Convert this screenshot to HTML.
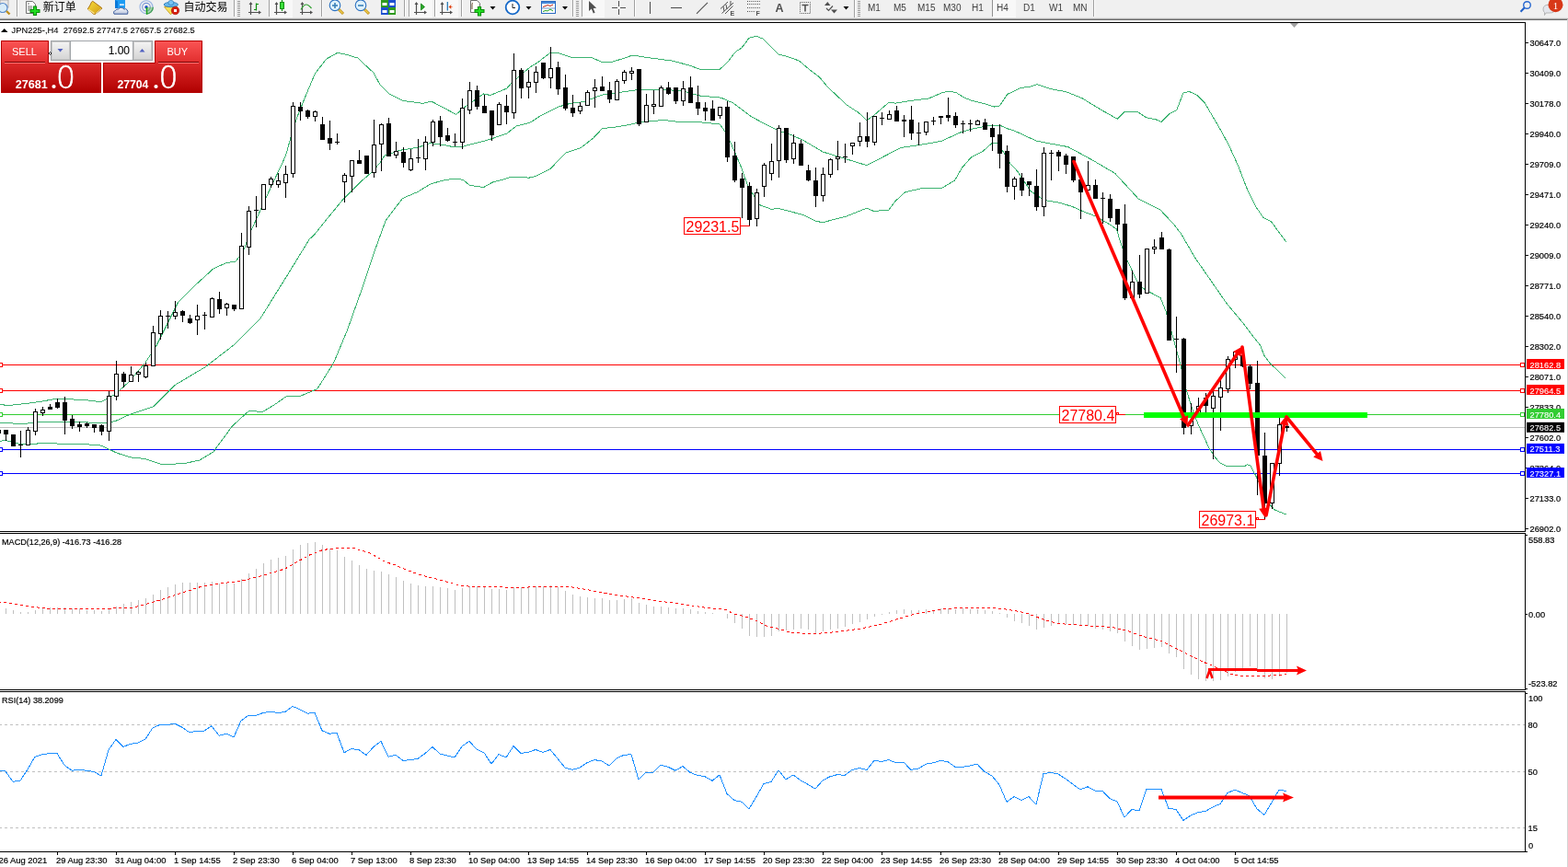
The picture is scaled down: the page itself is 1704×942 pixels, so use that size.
<!DOCTYPE html>
<html><head><meta charset="utf-8"><title>JPN225 H4</title>
<style>
html,body{margin:0;padding:0;background:#fff;width:1704px;height:942px;overflow:hidden}
svg{display:block;position:absolute;left:0;top:0}
.t{font-family:"Liberation Sans",sans-serif;font-size:9.8px;fill:#000;stroke:#000;stroke-width:0.2px}
.lb{font-family:"Liberation Sans",sans-serif;font-size:16px;fill:#ff0000}
.w{font-family:"Liberation Sans",sans-serif;fill:#fff}
.big{font-family:"DejaVu Sans",sans-serif;font-weight:200;font-size:33px;fill:#fff;stroke:#fff;stroke-width:0.6px}
.cjk{font-family:"Liberation Sans","Noto Sans CJK SC","WenQuanYi Zen Hei",sans-serif;font-size:12px;font-weight:400;fill:#000}
.tf{font-family:"Liberation Sans",sans-serif;font-size:10px;fill:#404040}
.ic{font-family:"Liberation Sans",sans-serif;font-size:7px;font-weight:bold;fill:#505050}
.badge{font-family:"Liberation Serif",serif;font-size:11px;fill:#fff}
</style></head>
<body>
<svg width="1704" height="942" viewBox="0 0 1704 942">
<defs>
<clipPath id="cm"><rect x="0" y="25" width="1657" height="552"/></clipPath>
<clipPath id="cmacd"><rect x="0" y="580" width="1657" height="169"/></clipPath>
<clipPath id="crsi"><rect x="0" y="752" width="1657" height="173"/></clipPath>
<linearGradient id="gsellt" x1="0" y1="0" x2="0" y2="1"><stop offset="0" stop-color="#fb5555"/><stop offset="1" stop-color="#e02c2c"/></linearGradient>
<linearGradient id="gsellb" x1="0" y1="0" x2="0" y2="1"><stop offset="0" stop-color="#dc2a2a"/><stop offset="1" stop-color="#b00000"/></linearGradient>
<linearGradient id="gbook" x1="0" y1="0" x2="1" y2="1"><stop offset="0" stop-color="#f8dc3c"/><stop offset="1" stop-color="#d09a14"/></linearGradient>
<linearGradient id="gcloud" x1="0" y1="0" x2="0" y2="1"><stop offset="0" stop-color="#ffffff"/><stop offset="1" stop-color="#b8c4dc"/></linearGradient>
<linearGradient id="gbtn" x1="0" y1="0" x2="0" y2="1"><stop offset="0" stop-color="#f4f4f4"/><stop offset="1" stop-color="#d4d4d4"/></linearGradient>
</defs>
<g>
<rect x="0" y="0" width="1704" height="19" fill="#f0f0f0"/>
<rect x="0" y="19" width="1704" height="1" fill="#e2e2e2"/>
<rect x="0" y="20" width="1704" height="1" fill="#a8a8a8"/>
<rect x="0" y="21" width="1704" height="1" fill="#6a6a6a"/>
<rect x="0" y="0" width="9" height="8" fill="#e8e8e8" stroke="#a0a0a0" stroke-width="0.8"/>
<circle cx="3" cy="8.5" r="5" fill="#d8ecf8" stroke="#5a8ccc" stroke-width="1.2"/>
<path d="M7 12 L10.5 15.5" stroke="#c09020" stroke-width="2.4"/>
<rect x="18" y="0" width="1" height="18" fill="#a0a0a0"/><rect x="19" y="0" width="1" height="18" fill="#ffffff"/>
<path d="M28.5 1.5 H35.5 L38.5 4.5 V14.5 H28.5 Z" fill="#fff" stroke="#707070" stroke-width="1"/>
<path d="M30 4 H32 M30 7 H35 M30 9 H35 M30 11 H33" stroke="#606060" stroke-width="0.9"/>
<path d="M38 6.5 V17 M32.5 12 H43.5" stroke="#0a8a0a" stroke-width="4.2"/>
<path d="M38 7.5 V16 M33.5 12 H42.5" stroke="#22dd22" stroke-width="2.2"/>
<text x="46.8" y="11.6" class="cjk">新订单</text>
<path d="M95.3 9.8 Q98 6 99.5 2.2 Q100.2 1 101.2 1.6 L110.4 8.4 Q111 9.2 110.2 10 L103.6 15.2 Q102.6 15.8 101.6 15.2 Z" fill="url(#gbook)" stroke="#a66a0a" stroke-width="0.9"/>
<path d="M96.2 10.2 L102.6 14.6" stroke="#f8e08a" stroke-width="1.3"/>
<path d="M104 14.6 L110 9.6" stroke="#e8d8a0" stroke-width="1"/>
<rect x="125" y="0" width="11" height="9" fill="#1e9cf4"/>
<path d="M125 0 V9 H128 V1.5 Z" fill="#0a78d8"/>
<rect x="130" y="4.3" width="4.8" height="1.6" fill="#e8f4ff"/>
<path d="M124 15.2 Q122.6 12.2 125.6 11.4 Q126.4 9.6 128.6 10 Q130 7.6 132.6 8.4 Q134.4 8.8 134.8 10.2 Q136.6 8.8 138 10.6 Q139.6 12 138.6 15.2 Z" fill="url(#gcloud)" stroke="#3c5c9c" stroke-width="1"/>
<path d="M159 7.7 V15.5 A7.6 7.6 0 0 0 166.6 7.7 Z" fill="#a8dca0"/>
<circle cx="159" cy="7.7" r="7" fill="none" stroke="#9ab4e4" stroke-width="1.1"/>
<circle cx="159" cy="7.7" r="4.3" fill="none" stroke="#7896d8" stroke-width="1.1"/>
<path d="M166.3 7.7 A7.3 7.3 0 0 1 159 15" stroke="#40a050" stroke-width="1.3" fill="none"/>
<path d="M163.3 7.7 A4.3 4.3 0 0 1 159 12" stroke="#70b878" stroke-width="1" fill="none"/>
<circle cx="159" cy="7.7" r="1.7" fill="#2050c8"/>
<path d="M159.5 8 V15.6" stroke="#18a018" stroke-width="1.5"/>
<path d="M178.5 7.5 L192.5 7.5 L185.5 15.8 Z" fill="#f6e058" stroke="#c8a020" stroke-width="0.9" stroke-linejoin="round"/>
<ellipse cx="185.8" cy="5" rx="7.6" ry="2.6" fill="#68b8ec" stroke="#2a7ab8" stroke-width="0.9"/>
<ellipse cx="185.8" cy="3" rx="3" ry="2.6" fill="#78c4f4" stroke="#2a7ab8" stroke-width="0.7"/>
<circle cx="190.5" cy="11.5" r="4.2" fill="#d42010" stroke="#b01000" stroke-width="0.6"/>
<rect x="189" y="10" width="3" height="3" fill="#fff"/>
<text x="199.5" y="11.6" class="cjk">自动交易</text>
<rect x="254" y="0" width="1" height="18" fill="#a0a0a0"/><rect x="255" y="0" width="1" height="18" fill="#ffffff"/>
<rect x="258" y="1" width="3" height="1" fill="#9a9a9a"/><rect x="258" y="3" width="3" height="1" fill="#9a9a9a"/><rect x="258" y="5" width="3" height="1" fill="#9a9a9a"/><rect x="258" y="7" width="3" height="1" fill="#9a9a9a"/><rect x="258" y="9" width="3" height="1" fill="#9a9a9a"/><rect x="258" y="11" width="3" height="1" fill="#9a9a9a"/><rect x="258" y="13" width="3" height="1" fill="#9a9a9a"/><rect x="258" y="15" width="3" height="1" fill="#9a9a9a"/><rect x="258" y="17" width="3" height="1" fill="#9a9a9a"/>
<path d="M272.5 3 V16 M270 13.5 H283" stroke="#505050" stroke-width="1.2" fill="none"/><path d="M270.5 5 L272.5 2 L274.5 5 Z M281 11.5 L284 13.5 L281 15.5Z" fill="#505050"/>
<path d="M278.5 3.5 V11.5 M278.5 4.5 H281 M276 10.5 H278.5" stroke="#109010" stroke-width="1.2" fill="none"/>
<rect x="292" y="0" width="1" height="18" fill="#a0a0a0"/><rect x="293" y="0" width="1" height="18" fill="#ffffff"/>
<rect x="294" y="0" width="24" height="19" fill="#f8f8f8"/><rect x="294" y="18" width="24" height="1" fill="#fdfdfd"/>
<path d="M300.5 3 V16 M298 13.5 H311" stroke="#505050" stroke-width="1.2" fill="none"/><path d="M298.5 5 L300.5 2 L302.5 5 Z M309 11.5 L312 13.5 L309 15.5Z" fill="#505050"/>
<path d="M306.5 0 V12" stroke="#109010" stroke-width="1.2"/><rect x="304.5" y="2.5" width="4" height="7" fill="#3be03b" stroke="#109010" stroke-width="1"/>
<path d="M328.5 3 V16 M326 13.5 H339" stroke="#505050" stroke-width="1.2" fill="none"/><path d="M326.5 5 L328.5 2 L330.5 5 Z M337 11.5 L340 13.5 L337 15.5Z" fill="#505050"/>
<path d="M327 10.5 Q330 5 333 5 Q335 5 338.5 9" stroke="#30a030" stroke-width="1.2" fill="none"/>
<rect x="349" y="0" width="1" height="18" fill="#a0a0a0"/><rect x="350" y="0" width="1" height="18" fill="#ffffff"/>
<path d="M368 10 L373 15" stroke="#c0901a" stroke-width="3"/>
<path d="M368.5 10.5 L372.5 14.5" stroke="#f0d050" stroke-width="1.2"/>
<circle cx="364" cy="5.8" r="5.8" fill="#dff2fc" stroke="#2a70c0" stroke-width="1.1"/>
<path d="M361 6 H367" stroke="#3a80b8" stroke-width="1.6"/>
<path d="M364 3 V9" stroke="#3a80b8" stroke-width="1.6"/>
<path d="M396 10 L401 15" stroke="#c0901a" stroke-width="3"/>
<path d="M396.5 10.5 L400.5 14.5" stroke="#f0d050" stroke-width="1.2"/>
<circle cx="392" cy="5.8" r="5.8" fill="#dff2fc" stroke="#2a70c0" stroke-width="1.1"/>
<path d="M389 6 H395" stroke="#3a80b8" stroke-width="1.6"/>
<rect x="414" y="0" width="8" height="8" fill="#2e9a1e"/><rect x="415.5" y="3" width="5" height="3" fill="#fff"/>
<rect x="422" y="0" width="8" height="8" fill="#1e50d0"/><rect x="423.5" y="3" width="5" height="3" fill="#fff"/>
<rect x="414" y="8" width="8" height="8" fill="#1e50d0"/><rect x="415.5" y="11" width="5" height="3" fill="#fff"/>
<rect x="422" y="8" width="8" height="8" fill="#2e9a1e"/><rect x="423.5" y="11" width="5" height="3" fill="#fff"/>
<rect x="439" y="0" width="1" height="18" fill="#a0a0a0"/><rect x="440" y="0" width="1" height="18" fill="#ffffff"/>
<rect x="444" y="0" width="1" height="18" fill="#a0a0a0"/><rect x="445" y="0" width="1" height="18" fill="#ffffff"/>
<rect x="446" y="0" width="24" height="19" fill="#f8f8f8"/><rect x="446" y="18" width="24" height="1" fill="#fdfdfd"/>
<path d="M452.5 3 V16 M450 13.5 H463" stroke="#505050" stroke-width="1.2" fill="none"/><path d="M450.5 5 L452.5 2 L454.5 5 Z M461 11.5 L464 13.5 L461 15.5Z" fill="#505050"/>
<polygon points="457.5,4 457.5,11 461.5,7.5" fill="#2aa82a" stroke="#108010" stroke-width="0.8"/>
<rect x="472" y="0" width="1" height="18" fill="#a0a0a0"/><rect x="473" y="0" width="1" height="18" fill="#ffffff"/>
<rect x="474" y="0" width="24" height="19" fill="#f8f8f8"/><rect x="474" y="18" width="24" height="1" fill="#fdfdfd"/>
<path d="M480.5 3 V16 M478 13.5 H491" stroke="#505050" stroke-width="1.2" fill="none"/><path d="M478.5 5 L480.5 2 L482.5 5 Z M489 11.5 L492 13.5 L489 15.5Z" fill="#505050"/>
<path d="M486.3 2 V11.5" stroke="#1870b0" stroke-width="1.2"/><path d="M487.5 7.5 L490.5 5 L490 7 L492.5 7.5 L490 8 L490.5 10 Z" fill="#e04010"/>
<rect x="501" y="0" width="1" height="18" fill="#a0a0a0"/><rect x="502" y="0" width="1" height="18" fill="#ffffff"/>
<path d="M511.5 0.5 H518.5 L521.5 3.5 V13.5 H511.5 Z" fill="#fff" stroke="#707070" stroke-width="1"/>
<path d="M514 3 Q513 3 513 5 V10" stroke="#604020" stroke-width="0.9" fill="none"/>
<path d="M521 7 V17.5 M515.5 12 H526.5" stroke="#0a8a0a" stroke-width="4.2"/>
<path d="M521 8 V16.5 M516.5 12 H525.5" stroke="#22dd22" stroke-width="2.2"/>
<polygon points="532.5,7 538.5,7 535.5,10.5" fill="#000"/>
<circle cx="557" cy="8" r="7.3" fill="#fff" stroke="#1468c8" stroke-width="1.8"/>
<path d="M557 4 V8.5 H560" stroke="#202020" stroke-width="1" fill="none"/>
<polygon points="571.5,7 577.5,7 574.5,10.5" fill="#000"/>
<rect x="588.5" y="1.5" width="15" height="13" fill="#fff" stroke="#2868c0" stroke-width="1"/>
<rect x="589" y="2" width="14" height="2" fill="#4888d8"/>
<path d="M589 9 H603" stroke="#5080c0" stroke-width="0.8"/>
<path d="M590 7.5 L593 6.5 L595 5.5 L598 6.5 L601 5" stroke="#c02010" stroke-width="1" fill="none"/>
<path d="M590 12.5 L593 11.5 L595 12 L598 10 L601 12" stroke="#20a020" stroke-width="1" fill="none"/>
<polygon points="611,7 617,7 614,10.5" fill="#000"/>
<rect x="622" y="0" width="1" height="18" fill="#a0a0a0"/><rect x="623" y="0" width="1" height="18" fill="#ffffff"/>
<rect x="626" y="1" width="3" height="1" fill="#9a9a9a"/><rect x="626" y="3" width="3" height="1" fill="#9a9a9a"/><rect x="626" y="5" width="3" height="1" fill="#9a9a9a"/><rect x="626" y="7" width="3" height="1" fill="#9a9a9a"/><rect x="626" y="9" width="3" height="1" fill="#9a9a9a"/><rect x="626" y="11" width="3" height="1" fill="#9a9a9a"/><rect x="626" y="13" width="3" height="1" fill="#9a9a9a"/><rect x="626" y="15" width="3" height="1" fill="#9a9a9a"/><rect x="626" y="17" width="3" height="1" fill="#9a9a9a"/>
<rect x="632" y="0" width="1" height="18" fill="#a0a0a0"/><rect x="633" y="0" width="1" height="18" fill="#ffffff"/>
<rect x="633" y="0" width="24" height="19" fill="#f8f8f8"/><rect x="633" y="18" width="24" height="1" fill="#fdfdfd"/>
<path d="M640 1 V12 L642.8 9.5 L644.8 14.5 L646.6 13.8 L644.7 9 L648.2 8.7 Z" fill="#505050"/>
<path d="M672.5 1 V7 M672.5 10 V16 M665 8.5 H671 M674 8.5 H680" stroke="#505050" stroke-width="1.1"/>
<rect x="689" y="0" width="1" height="18" fill="#a0a0a0"/><rect x="690" y="0" width="1" height="18" fill="#ffffff"/>
<path d="M706.5 2 V15" stroke="#505050" stroke-width="1.1"/>
<path d="M729 8.5 H741" stroke="#505050" stroke-width="1.1"/>
<path d="M757 14.8 L769 2.8" stroke="#505050" stroke-width="1.1"/>
<path d="M783 9.5 L791 2 M784.5 14.5 L797 3 M788 15 L796.5 6.5 M786 7 L787 12 M789 5 L790 10 M794 1 V6" stroke="#505050" stroke-width="1" fill="none"/>
<text x="793.5" y="17.2" class="ic">E</text>
<path d="M812 1.5 H826" stroke="#505050" stroke-width="1" stroke-dasharray="1,1.2"/>
<path d="M812 4.5 H826" stroke="#505050" stroke-width="1" stroke-dasharray="1,1.2"/>
<path d="M812 8.5 H826" stroke="#505050" stroke-width="1" stroke-dasharray="1,1.2"/>
<path d="M812 12.5 H821" stroke="#505050" stroke-width="1" stroke-dasharray="1,1.2"/>
<text x="821.5" y="17.2" class="ic">F</text>
<text x="842.5" y="13.2" class="ic" style="font-size:12.5px">A</text>
<rect x="869.5" y="2.5" width="11" height="12" fill="none" stroke="#505050" stroke-width="1" stroke-dasharray="1,1.1"/>
<path d="M871.5 5.5 H878.5 M875 5.5 V12.5" stroke="#505050" stroke-width="1.6"/>
<polygon points="896,6 902.5,6 899.3,2" fill="#505050"/><polygon points="903,10.5 910,10.5 906.5,14.5" fill="#505050"/>
<path d="M898 9 L900.5 11.5 L905 6.5" stroke="#505050" stroke-width="1.2" fill="none"/>
<polygon points="916.5,7 922.5,7 919.5,10.5" fill="#000"/>
<rect x="928" y="0" width="1" height="19" fill="#a0a0a0"/><rect x="929" y="0" width="1" height="19" fill="#ffffff"/>
<rect x="932" y="1" width="3" height="1" fill="#9a9a9a"/><rect x="932" y="3" width="3" height="1" fill="#9a9a9a"/><rect x="932" y="5" width="3" height="1" fill="#9a9a9a"/><rect x="932" y="7" width="3" height="1" fill="#9a9a9a"/><rect x="932" y="9" width="3" height="1" fill="#9a9a9a"/><rect x="932" y="11" width="3" height="1" fill="#9a9a9a"/><rect x="932" y="13" width="3" height="1" fill="#9a9a9a"/><rect x="932" y="15" width="3" height="1" fill="#9a9a9a"/><rect x="932" y="17" width="3" height="1" fill="#9a9a9a"/>
<text x="943" y="12" class="tf">M1</text>
<text x="971" y="12" class="tf">M5</text>
<text x="997" y="12" class="tf">M15</text>
<text x="1025" y="12" class="tf">M30</text>
<text x="1056" y="12" class="tf">H1</text>
<rect x="1079" y="0" width="25" height="19" fill="#f8f8f8"/><rect x="1079" y="18" width="25" height="1" fill="#fdfdfd"/>
<rect x="1078" y="0" width="1" height="18" fill="#909090"/>
<text x="1083" y="12" class="tf">H4</text>
<text x="1112" y="12" class="tf">D1</text>
<text x="1140" y="12" class="tf">W1</text>
<text x="1166" y="12" class="tf">MN</text>
<rect x="1188" y="0" width="1" height="18" fill="#a0a0a0"/><rect x="1189" y="0" width="1" height="18" fill="#ffffff"/>
<circle cx="1659.5" cy="5.5" r="3.8" fill="none" stroke="#2868d0" stroke-width="1.4"/>
<path d="M1656.8 8.3 L1652.5 12.8" stroke="#2060c8" stroke-width="2"/>
<path d="M1677 10 Q1677 5 1684 5 Q1690 5 1690 10 Q1690 14 1684 14 L1680 14 L1678.5 16.5 L1678.5 13.5 Q1677 12.5 1677 10Z" fill="#e4e6ec" stroke="#a8a8a8" stroke-width="0.8"/>
<circle cx="1690.5" cy="5.2" r="8" fill="#d83818"/>
<text x="1690.5" y="10" class="badge" text-anchor="middle">1</text>
</g>
<g>
<rect x="0" y="24" width="1657" height="1" fill="#000"/>
<rect x="0" y="577" width="1658" height="1" fill="#000"/>
<rect x="0" y="579" width="1658" height="1" fill="#000"/>
<rect x="0" y="749" width="1658" height="1" fill="#000"/>
<rect x="0" y="751" width="1658" height="1" fill="#000"/>
<rect x="0" y="925" width="1658" height="1" fill="#000"/>
<rect x="1657" y="24" width="1" height="554" fill="#000"/>
<rect x="1657" y="579" width="1" height="171" fill="#000"/>
<rect x="1657" y="751" width="1" height="175" fill="#000"/>
<rect x="1703" y="21" width="1" height="921" fill="#d4d4d4"/>
<polygon points="1402,25 1411,25 1406.5,30" fill="#a0a0a0"/>
<g clip-path="url(#cm)">
<rect x="0" y="464" width="1657" height="1" fill="#c0c0c0"/>
<rect x="0" y="396" width="1657" height="1" fill="#ff0000"/>
<rect x="-1.5" y="394.5" width="4" height="4" fill="#fff" stroke="#ff0000" stroke-width="1"/>
<rect x="1652.5" y="394.5" width="4" height="4" fill="#fff" stroke="#ff0000" stroke-width="1"/>
<rect x="0" y="424" width="1657" height="1" fill="#ff0000"/>
<rect x="-1.5" y="422.5" width="4" height="4" fill="#fff" stroke="#ff0000" stroke-width="1"/>
<rect x="1652.5" y="422.5" width="4" height="4" fill="#fff" stroke="#ff0000" stroke-width="1"/>
<rect x="0" y="450" width="1657" height="1" fill="#32cd32"/>
<rect x="-1.5" y="448.5" width="4" height="4" fill="#fff" stroke="#32cd32" stroke-width="1"/>
<rect x="1652.5" y="448.5" width="4" height="4" fill="#fff" stroke="#32cd32" stroke-width="1"/>
<rect x="0" y="488" width="1657" height="1" fill="#0000ff"/>
<rect x="-1.5" y="486.5" width="4" height="4" fill="#fff" stroke="#0000ff" stroke-width="1"/>
<rect x="1652.5" y="486.5" width="4" height="4" fill="#fff" stroke="#0000ff" stroke-width="1"/>
<rect x="0" y="514" width="1657" height="1" fill="#0000ff"/>
<rect x="-1.5" y="512.5" width="4" height="4" fill="#fff" stroke="#0000ff" stroke-width="1"/>
<rect x="1652.5" y="512.5" width="4" height="4" fill="#fff" stroke="#0000ff" stroke-width="1"/>
<polyline points="0.0,439.6 10.0,440.5 35.0,437.7 50.0,435.3 60.0,433.4 90.0,434.3 110.0,436.7 124.9,428.6 139.7,415.3 157.5,394.5 169.4,376.7 193.2,329.1 214.0,308.3 231.8,292.0 246.7,285.2 255.6,284.6 264.5,272.7 272.7,251.0 291.0,210.8 310.5,169.2 316.6,147.2 322.7,127.7 332.5,103.3 342.3,80.1 354.5,64.2 366.7,57.4 376.5,59.3 388.7,63.0 405.8,78.9 413.1,92.3 422.9,102.1 437.5,109.4 459.5,112.3 469.0,110.2 495.7,124.3 506.1,115.4 525.5,102.0 532.9,103.5 550.7,96.1 556.7,89.4 576.0,73.0 583.9,68.2 597.3,57.8 606.9,57.5 621.0,62.3 641.9,62.3 654.5,67.5 665.7,67.2 682.0,62.0 686.9,60.0 704.8,62.7 730.0,66.0 749.4,71.1 762.7,76.0 770.0,75.4 782.3,75.4 791.9,66.0 796.9,59.2 800.6,55.5 805.6,52.3 808.4,49.1 813.8,41.4 817.0,40.4 822.1,39.3 829.4,42.3 846.3,59.4 852.2,60.3 861.3,63.3 868.6,66.2 879.6,75.6 890.5,83.8 899.7,94.8 910.0,104.4 919.7,113.6 933.1,122.5 942.0,130.7 949.5,125.5 965.8,111.4 973.2,112.1 986.6,109.9 1000.0,108.1 1007.9,107.6 1024.2,100.6 1031.7,99.2 1039.1,100.6 1048.0,106.1 1055.5,109.1 1070.3,112.8 1080.0,116.1 1086.4,115.0 1094.9,102.3 1109.7,95.3 1119.3,94.4 1126.7,91.7 1141.6,96.6 1158.6,99.7 1175.6,106.5 1194.7,118.2 1214.2,129.3 1222.3,121.4 1237.1,122.0 1245.6,127.8 1256.3,129.9 1262.2,132.5 1271.1,123.5 1278.6,119.9 1286.0,100.8 1292.4,99.5 1300.9,103.4 1309.3,111.9 1324.2,137.3 1334.8,156.4 1345.4,179.8 1356.1,207.4 1364.6,224.4 1373.1,236.7 1381.6,241.0 1397.5,262.6" fill="none" stroke="#3cb371" stroke-width="1" shape-rendering="crispEdges"/>
<polyline points="0.0,459.2 25.0,460.6 45.0,458.2 75.0,458.2 90.0,458.7 110.0,459.8 125.0,457.7 139.7,450.9 166.4,442.0 190.2,418.3 222.9,398.9 255.6,373.7 282.3,347.0 312.0,299.4 336.2,260.0 341.7,254.9 353.6,240.0 371.6,218.1 387.6,202.1 393.6,196.1 404.2,187.0 413.1,176.6 418.0,169.0 425.3,166.8 433.2,163.5 440.0,162.5 454.8,160.0 466.4,155.8 474.9,156.3 484.4,157.9 491.8,159.5 502.3,159.5 508.7,157.6 526.6,153.2 535.1,150.5 550.7,145.1 561.1,137.0 576.0,133.2 586.9,126.2 607.7,115.8 619.6,112.4 634.4,110.6 653.8,103.2 682.0,99.2 692.9,97.5 722.6,97.2 743.4,99.4 761.2,104.2 780.6,105.8 784.0,106.4 796.7,111.9 815.8,126.3 831.8,135.0 847.7,142.7 858.8,146.2 873.1,152.5 894.0,164.9 942.0,179.7 979.0,160.4 1000.0,157.4 1022.8,153.4 1045.1,143.3 1058.4,139.6 1077.8,136.2 1086.7,136.2 1094.1,139.6 1101.2,141.6 1126.7,153.3 1160.7,159.6 1186.2,173.4 1211.7,188.3 1237.1,215.9 1260.5,227.6 1275.4,243.5 1283.2,253.5 1298.7,280.0 1333.3,330.0 1350.0,349.9 1361.4,365.0 1369.7,375.3 1373.8,386.4 1381.7,396.5 1387.0,400.8 1397.6,411.4" fill="none" stroke="#3cb371" stroke-width="1" shape-rendering="crispEdges"/>
<polyline points="0.0,479.7 5.0,478.1 20.0,482.1 30.0,483.0 50.0,481.1 75.0,483.0 90.0,482.6 105.0,483.5 110.0,484.2 127.8,492.5 142.7,497.0 157.5,498.5 175.4,504.4 199.1,503.8 217.0,500.0 231.8,491.0 252.6,462.8 270.4,446.5 285.3,447.4 297.2,440.5 312.0,430.1 326.9,430.1 344.7,422.7 362.5,394.5 377.4,358.8 392.2,317.2 407.1,272.7 419.0,240.0 426.3,230.0 437.5,215.6 440.0,214.4 453.7,208.6 468.5,199.6 484.4,195.4 492.8,194.4 498.1,194.4 503.4,195.6 510.8,201.5 517.1,202.3 525.6,203.6 535.1,198.1 545.6,195.4 554.1,192.8 569.9,192.5 574.2,193.3 582.6,191.4 597.4,184.0 609.0,172.2 615.3,165.8 631.5,160.4 644.8,150.0 654.5,139.6 668.6,138.1 682.0,135.9 689.9,134.0 707.7,131.4 722.6,130.6 737.5,132.5 761.2,132.8 782.0,135.0 784.0,137.4 788.0,143.2 793.6,154.1 804.7,179.6 812.7,201.9 825.4,222.6 838.1,227.3 846.1,226.6 858.8,229.7 873.1,233.7 885.9,240.1 894.0,241.7 919.7,235.0 942.0,226.1 949.5,229.5 965.8,228.0 973.2,218.4 983.7,208.7 1000.0,205.0 1022.8,204.7 1037.6,196.1 1045.1,182.7 1055.5,170.8 1067.4,164.9 1078.5,155.2 1085.2,155.9 1091.1,166.4 1098.0,178.2 1105.4,185.7 1120.3,208.0 1135.2,217.6 1150.0,219.9 1164.9,224.3 1178.3,230.3 1190.2,234.7 1208.0,245.1 1213.4,249.0 1219.3,268.3 1225.2,283.2 1235.6,305.5 1241.6,312.9 1249.0,317.3 1260.9,323.3 1265.3,333.7 1267.6,340.0 1283.9,400.0 1289.0,423.2 1293.8,438.0 1299.1,454.0 1306.5,470.9 1314.0,486.8 1319.3,495.3 1325.6,502.8 1333.0,506.5 1353.2,506.2 1355.3,504.9 1358.5,505.4 1365.7,518.7 1376.3,544.1 1384.8,553.7 1397.6,559.0" fill="none" stroke="#3cb371" stroke-width="1" shape-rendering="crispEdges"/>
<rect x="-2" y="467" width="1" height="4" fill="#000"/>
<rect x="-4" y="467" width="5" height="4" fill="#000"/>
<rect x="6" y="467" width="1" height="12" fill="#000"/>
<rect x="4" y="467" width="5" height="5" fill="#000"/>
<rect x="14" y="472" width="1" height="13" fill="#000"/>
<rect x="12" y="472" width="5" height="13" fill="#000"/>
<rect x="22" y="468" width="1" height="29" fill="#000"/>
<rect x="20" y="483" width="5" height="1" fill="#000"/>
<rect x="30" y="464" width="1" height="20" fill="#000"/>
<rect x="28.5" y="467.5" width="4" height="16" fill="#fff" stroke="#000" stroke-width="1"/>
<rect x="38" y="444" width="1" height="29" fill="#000"/>
<rect x="36.5" y="447.5" width="4" height="21" fill="#fff" stroke="#000" stroke-width="1"/>
<rect x="46" y="442" width="1" height="10" fill="#000"/>
<rect x="44.5" y="445.5" width="4" height="3" fill="#fff" stroke="#000" stroke-width="1"/>
<rect x="54" y="439" width="1" height="6" fill="#000"/>
<rect x="52" y="442" width="5" height="3" fill="#000"/>
<rect x="62" y="433" width="1" height="11" fill="#000"/>
<rect x="60" y="437" width="5" height="6" fill="#000"/>
<rect x="70" y="431" width="1" height="41" fill="#000"/>
<rect x="68" y="437" width="5" height="20" fill="#000"/>
<rect x="78" y="451" width="1" height="15" fill="#000"/>
<rect x="76" y="455" width="5" height="8" fill="#000"/>
<rect x="86" y="458" width="1" height="11" fill="#000"/>
<rect x="84" y="461" width="5" height="3" fill="#000"/>
<rect x="94" y="459" width="1" height="6" fill="#000"/>
<rect x="92" y="460" width="5" height="3" fill="#000"/>
<rect x="102" y="461" width="1" height="9" fill="#000"/>
<rect x="100" y="461" width="5" height="4" fill="#000"/>
<rect x="110" y="461" width="1" height="12" fill="#000"/>
<rect x="108" y="462" width="5" height="7" fill="#000"/>
<rect x="118" y="425" width="1" height="54" fill="#000"/>
<rect x="116.5" y="430.5" width="4" height="38" fill="#fff" stroke="#000" stroke-width="1"/>
<rect x="126" y="392" width="1" height="43" fill="#000"/>
<rect x="124.5" y="406.5" width="4" height="24" fill="#fff" stroke="#000" stroke-width="1"/>
<rect x="134" y="404" width="1" height="17" fill="#000"/>
<rect x="132" y="406" width="5" height="9" fill="#000"/>
<rect x="142" y="398" width="1" height="17" fill="#000"/>
<rect x="140.5" y="407.5" width="4" height="7" fill="#fff" stroke="#000" stroke-width="1"/>
<rect x="150" y="403" width="1" height="12" fill="#000"/>
<rect x="148.5" y="404.5" width="4" height="2" fill="#fff" stroke="#000" stroke-width="1"/>
<rect x="158" y="394" width="1" height="17" fill="#000"/>
<rect x="156.5" y="397.5" width="4" height="12" fill="#fff" stroke="#000" stroke-width="1"/>
<rect x="166" y="354" width="1" height="44" fill="#000"/>
<rect x="164.5" y="361.5" width="4" height="36" fill="#fff" stroke="#000" stroke-width="1"/>
<rect x="174" y="337" width="1" height="32" fill="#000"/>
<rect x="172.5" y="343.5" width="4" height="19" fill="#fff" stroke="#000" stroke-width="1"/>
<rect x="182" y="338" width="1" height="19" fill="#000"/>
<rect x="180" y="343" width="5" height="1" fill="#000"/>
<rect x="190" y="327" width="1" height="20" fill="#000"/>
<rect x="188.5" y="339.5" width="4" height="4" fill="#fff" stroke="#000" stroke-width="1"/>
<rect x="198" y="337" width="1" height="13" fill="#000"/>
<rect x="196" y="338" width="5" height="5" fill="#000"/>
<rect x="206" y="342" width="1" height="10" fill="#000"/>
<rect x="204" y="346" width="5" height="5" fill="#000"/>
<rect x="214" y="331" width="1" height="33" fill="#000"/>
<rect x="212.5" y="343.5" width="4" height="4" fill="#fff" stroke="#000" stroke-width="1"/>
<rect x="222" y="339" width="1" height="19" fill="#000"/>
<rect x="220" y="342" width="5" height="1" fill="#000"/>
<rect x="230" y="323" width="1" height="22" fill="#000"/>
<rect x="228.5" y="324.5" width="4" height="20" fill="#fff" stroke="#000" stroke-width="1"/>
<rect x="238" y="317" width="1" height="24" fill="#000"/>
<rect x="236" y="325" width="5" height="11" fill="#000"/>
<rect x="246" y="329" width="1" height="14" fill="#000"/>
<rect x="244.5" y="330.5" width="4" height="4" fill="#fff" stroke="#000" stroke-width="1"/>
<rect x="254" y="331" width="1" height="7" fill="#000"/>
<rect x="252" y="331" width="5" height="5" fill="#000"/>
<rect x="262" y="253" width="1" height="83" fill="#000"/>
<rect x="260.5" y="267.5" width="4" height="68" fill="#fff" stroke="#000" stroke-width="1"/>
<rect x="270" y="224" width="1" height="53" fill="#000"/>
<rect x="268.5" y="229.5" width="4" height="39" fill="#fff" stroke="#000" stroke-width="1"/>
<rect x="278" y="213" width="1" height="34" fill="#000"/>
<rect x="276" y="228" width="5" height="1" fill="#000"/>
<rect x="286" y="200" width="1" height="28" fill="#000"/>
<rect x="284.5" y="200.5" width="4" height="27" fill="#fff" stroke="#000" stroke-width="1"/>
<rect x="294" y="192" width="1" height="12" fill="#000"/>
<rect x="292.5" y="194.5" width="4" height="6" fill="#fff" stroke="#000" stroke-width="1"/>
<rect x="302" y="188" width="1" height="16" fill="#000"/>
<rect x="300.5" y="196.5" width="4" height="4" fill="#fff" stroke="#000" stroke-width="1"/>
<rect x="310" y="180" width="1" height="35" fill="#000"/>
<rect x="308.5" y="189.5" width="4" height="9" fill="#fff" stroke="#000" stroke-width="1"/>
<rect x="318" y="111" width="1" height="82" fill="#000"/>
<rect x="316.5" y="115.5" width="4" height="73" fill="#fff" stroke="#000" stroke-width="1"/>
<rect x="326" y="111" width="1" height="20" fill="#000"/>
<rect x="324" y="116" width="5" height="5" fill="#000"/>
<rect x="334" y="119" width="1" height="10" fill="#000"/>
<rect x="332" y="120" width="5" height="7" fill="#000"/>
<rect x="342" y="120" width="1" height="12" fill="#000"/>
<rect x="340.5" y="121.5" width="4" height="5" fill="#fff" stroke="#000" stroke-width="1"/>
<rect x="350" y="127" width="1" height="25" fill="#000"/>
<rect x="348" y="135" width="5" height="17" fill="#000"/>
<rect x="358" y="131" width="1" height="32" fill="#000"/>
<rect x="356" y="150" width="5" height="6" fill="#000"/>
<rect x="366" y="145" width="1" height="12" fill="#000"/>
<rect x="364" y="154" width="5" height="1" fill="#000"/>
<rect x="374" y="188" width="1" height="32" fill="#000"/>
<rect x="372.5" y="190.5" width="4" height="7" fill="#fff" stroke="#000" stroke-width="1"/>
<rect x="382" y="174" width="1" height="35" fill="#000"/>
<rect x="380.5" y="174.5" width="4" height="17" fill="#fff" stroke="#000" stroke-width="1"/>
<rect x="390" y="163" width="1" height="15" fill="#000"/>
<rect x="388" y="174" width="5" height="4" fill="#000"/>
<rect x="398" y="169" width="1" height="20" fill="#000"/>
<rect x="396" y="169" width="5" height="20" fill="#000"/>
<rect x="406" y="130" width="1" height="63" fill="#000"/>
<rect x="404.5" y="157.5" width="4" height="30" fill="#fff" stroke="#000" stroke-width="1"/>
<rect x="414" y="134" width="1" height="52" fill="#000"/>
<rect x="412.5" y="135.5" width="4" height="21" fill="#fff" stroke="#000" stroke-width="1"/>
<rect x="422" y="128" width="1" height="42" fill="#000"/>
<rect x="420" y="134" width="5" height="36" fill="#000"/>
<rect x="430" y="154" width="1" height="18" fill="#000"/>
<rect x="428.5" y="164.5" width="4" height="4" fill="#fff" stroke="#000" stroke-width="1"/>
<rect x="438" y="160" width="1" height="22" fill="#000"/>
<rect x="436" y="165" width="5" height="12" fill="#000"/>
<rect x="446" y="162" width="1" height="24" fill="#000"/>
<rect x="444.5" y="172.5" width="4" height="12" fill="#fff" stroke="#000" stroke-width="1"/>
<rect x="454" y="151" width="1" height="26" fill="#000"/>
<rect x="452" y="171" width="5" height="1" fill="#000"/>
<rect x="462" y="148" width="1" height="37" fill="#000"/>
<rect x="460.5" y="154.5" width="4" height="18" fill="#fff" stroke="#000" stroke-width="1"/>
<rect x="470" y="130" width="1" height="29" fill="#000"/>
<rect x="468.5" y="132.5" width="4" height="22" fill="#fff" stroke="#000" stroke-width="1"/>
<rect x="478" y="126" width="1" height="33" fill="#000"/>
<rect x="476" y="131" width="5" height="18" fill="#000"/>
<rect x="486" y="139" width="1" height="15" fill="#000"/>
<rect x="484" y="147" width="5" height="6" fill="#000"/>
<rect x="494" y="145" width="1" height="14" fill="#000"/>
<rect x="492" y="154" width="5" height="1" fill="#000"/>
<rect x="502" y="107" width="1" height="55" fill="#000"/>
<rect x="500.5" y="117.5" width="4" height="37" fill="#fff" stroke="#000" stroke-width="1"/>
<rect x="510" y="89" width="1" height="35" fill="#000"/>
<rect x="508.5" y="98.5" width="4" height="21" fill="#fff" stroke="#000" stroke-width="1"/>
<rect x="518" y="93" width="1" height="26" fill="#000"/>
<rect x="516" y="98" width="5" height="18" fill="#000"/>
<rect x="526" y="103" width="1" height="20" fill="#000"/>
<rect x="524" y="115" width="5" height="8" fill="#000"/>
<rect x="534" y="120" width="1" height="33" fill="#000"/>
<rect x="532" y="120" width="5" height="27" fill="#000"/>
<rect x="542" y="111" width="1" height="25" fill="#000"/>
<rect x="540.5" y="113.5" width="4" height="22" fill="#fff" stroke="#000" stroke-width="1"/>
<rect x="550" y="103" width="1" height="32" fill="#000"/>
<rect x="548" y="115" width="5" height="7" fill="#000"/>
<rect x="558" y="58" width="1" height="71" fill="#000"/>
<rect x="556.5" y="76.5" width="4" height="46" fill="#fff" stroke="#000" stroke-width="1"/>
<rect x="566" y="74" width="1" height="33" fill="#000"/>
<rect x="564" y="76" width="5" height="20" fill="#000"/>
<rect x="574" y="76" width="1" height="31" fill="#000"/>
<rect x="572.5" y="89.5" width="4" height="5" fill="#fff" stroke="#000" stroke-width="1"/>
<rect x="582" y="72" width="1" height="29" fill="#000"/>
<rect x="580.5" y="78.5" width="4" height="11" fill="#fff" stroke="#000" stroke-width="1"/>
<rect x="590" y="68" width="1" height="18" fill="#000"/>
<rect x="588" y="68" width="5" height="17" fill="#000"/>
<rect x="598" y="51" width="1" height="45" fill="#000"/>
<rect x="596.5" y="74.5" width="4" height="10" fill="#fff" stroke="#000" stroke-width="1"/>
<rect x="606" y="67" width="1" height="36" fill="#000"/>
<rect x="604" y="73" width="5" height="24" fill="#000"/>
<rect x="614" y="81" width="1" height="39" fill="#000"/>
<rect x="612" y="95" width="5" height="23" fill="#000"/>
<rect x="622" y="103" width="1" height="24" fill="#000"/>
<rect x="620" y="117" width="5" height="6" fill="#000"/>
<rect x="630" y="111" width="1" height="13" fill="#000"/>
<rect x="628.5" y="115.5" width="4" height="5" fill="#fff" stroke="#000" stroke-width="1"/>
<rect x="638" y="98" width="1" height="17" fill="#000"/>
<rect x="636.5" y="100.5" width="4" height="14" fill="#fff" stroke="#000" stroke-width="1"/>
<rect x="646" y="86" width="1" height="31" fill="#000"/>
<rect x="644.5" y="95.5" width="4" height="3" fill="#fff" stroke="#000" stroke-width="1"/>
<rect x="654" y="83" width="1" height="16" fill="#000"/>
<rect x="652" y="94" width="5" height="5" fill="#000"/>
<rect x="662" y="89" width="1" height="23" fill="#000"/>
<rect x="660" y="98" width="5" height="10" fill="#000"/>
<rect x="670" y="86" width="1" height="23" fill="#000"/>
<rect x="668.5" y="88.5" width="4" height="20" fill="#fff" stroke="#000" stroke-width="1"/>
<rect x="678" y="76" width="1" height="15" fill="#000"/>
<rect x="676.5" y="78.5" width="4" height="9" fill="#fff" stroke="#000" stroke-width="1"/>
<rect x="686" y="73" width="1" height="14" fill="#000"/>
<rect x="684.5" y="77.5" width="4" height="2" fill="#fff" stroke="#000" stroke-width="1"/>
<rect x="694" y="75" width="1" height="62" fill="#000"/>
<rect x="692" y="75" width="5" height="60" fill="#000"/>
<rect x="702" y="102" width="1" height="31" fill="#000"/>
<rect x="700.5" y="114.5" width="4" height="18" fill="#fff" stroke="#000" stroke-width="1"/>
<rect x="710" y="98" width="1" height="26" fill="#000"/>
<rect x="708.5" y="113.5" width="4" height="2" fill="#fff" stroke="#000" stroke-width="1"/>
<rect x="718" y="93" width="1" height="23" fill="#000"/>
<rect x="716.5" y="95.5" width="4" height="20" fill="#fff" stroke="#000" stroke-width="1"/>
<rect x="726" y="89" width="1" height="14" fill="#000"/>
<rect x="724" y="95" width="5" height="7" fill="#000"/>
<rect x="734" y="95" width="1" height="18" fill="#000"/>
<rect x="732" y="95" width="5" height="15" fill="#000"/>
<rect x="742" y="88" width="1" height="27" fill="#000"/>
<rect x="740.5" y="96.5" width="4" height="13" fill="#fff" stroke="#000" stroke-width="1"/>
<rect x="750" y="83" width="1" height="29" fill="#000"/>
<rect x="748" y="95" width="5" height="17" fill="#000"/>
<rect x="758" y="93" width="1" height="32" fill="#000"/>
<rect x="756" y="111" width="5" height="7" fill="#000"/>
<rect x="766" y="111" width="1" height="20" fill="#000"/>
<rect x="764" y="117" width="5" height="4" fill="#000"/>
<rect x="774" y="109" width="1" height="22" fill="#000"/>
<rect x="772" y="118" width="5" height="13" fill="#000"/>
<rect x="782" y="116" width="1" height="13" fill="#000"/>
<rect x="780.5" y="116.5" width="4" height="9" fill="#fff" stroke="#000" stroke-width="1"/>
<rect x="790" y="110" width="1" height="66" fill="#000"/>
<rect x="788" y="116" width="5" height="55" fill="#000"/>
<rect x="798" y="154" width="1" height="44" fill="#000"/>
<rect x="796" y="169" width="5" height="27" fill="#000"/>
<rect x="806" y="188" width="1" height="49" fill="#000"/>
<rect x="804" y="194" width="5" height="10" fill="#000"/>
<rect x="814" y="198" width="1" height="48" fill="#000"/>
<rect x="812" y="202" width="5" height="37" fill="#000"/>
<rect x="822" y="205" width="1" height="41" fill="#000"/>
<rect x="820.5" y="209.5" width="4" height="28" fill="#fff" stroke="#000" stroke-width="1"/>
<rect x="830" y="177" width="1" height="37" fill="#000"/>
<rect x="828.5" y="179.5" width="4" height="23" fill="#fff" stroke="#000" stroke-width="1"/>
<rect x="838" y="156" width="1" height="40" fill="#000"/>
<rect x="836.5" y="175.5" width="4" height="13" fill="#fff" stroke="#000" stroke-width="1"/>
<rect x="846" y="136" width="1" height="57" fill="#000"/>
<rect x="844.5" y="139.5" width="4" height="35" fill="#fff" stroke="#000" stroke-width="1"/>
<rect x="854" y="139" width="1" height="38" fill="#000"/>
<rect x="852" y="139" width="5" height="35" fill="#000"/>
<rect x="862" y="146" width="1" height="32" fill="#000"/>
<rect x="860.5" y="155.5" width="4" height="17" fill="#fff" stroke="#000" stroke-width="1"/>
<rect x="870" y="152" width="1" height="28" fill="#000"/>
<rect x="868" y="156" width="5" height="24" fill="#000"/>
<rect x="878" y="179" width="1" height="18" fill="#000"/>
<rect x="876" y="185" width="5" height="11" fill="#000"/>
<rect x="886" y="182" width="1" height="43" fill="#000"/>
<rect x="884" y="196" width="5" height="17" fill="#000"/>
<rect x="894" y="182" width="1" height="37" fill="#000"/>
<rect x="892.5" y="189.5" width="4" height="23" fill="#fff" stroke="#000" stroke-width="1"/>
<rect x="902" y="172" width="1" height="21" fill="#000"/>
<rect x="900.5" y="173.5" width="4" height="16" fill="#fff" stroke="#000" stroke-width="1"/>
<rect x="910" y="153" width="1" height="32" fill="#000"/>
<rect x="908.5" y="170.5" width="4" height="2" fill="#fff" stroke="#000" stroke-width="1"/>
<rect x="918" y="156" width="1" height="21" fill="#000"/>
<rect x="916" y="170" width="5" height="1" fill="#000"/>
<rect x="926" y="155" width="1" height="13" fill="#000"/>
<rect x="924.5" y="155.5" width="4" height="3" fill="#fff" stroke="#000" stroke-width="1"/>
<rect x="934" y="133" width="1" height="26" fill="#000"/>
<rect x="932.5" y="148.5" width="4" height="5" fill="#fff" stroke="#000" stroke-width="1"/>
<rect x="942" y="122" width="1" height="38" fill="#000"/>
<rect x="940" y="148" width="5" height="6" fill="#000"/>
<rect x="950" y="126" width="1" height="32" fill="#000"/>
<rect x="948.5" y="126.5" width="4" height="28" fill="#fff" stroke="#000" stroke-width="1"/>
<rect x="958" y="122" width="1" height="14" fill="#000"/>
<rect x="956" y="128" width="5" height="1" fill="#000"/>
<rect x="966" y="120" width="1" height="10" fill="#000"/>
<rect x="964.5" y="124.5" width="4" height="5" fill="#fff" stroke="#000" stroke-width="1"/>
<rect x="974" y="115" width="1" height="17" fill="#000"/>
<rect x="972" y="120" width="5" height="12" fill="#000"/>
<rect x="982" y="125" width="1" height="24" fill="#000"/>
<rect x="980" y="130" width="5" height="2" fill="#000"/>
<rect x="990" y="115" width="1" height="37" fill="#000"/>
<rect x="988" y="130" width="5" height="15" fill="#000"/>
<rect x="998" y="133" width="1" height="25" fill="#000"/>
<rect x="996" y="144" width="5" height="1" fill="#000"/>
<rect x="1006" y="132" width="1" height="15" fill="#000"/>
<rect x="1004.5" y="132.5" width="4" height="11" fill="#fff" stroke="#000" stroke-width="1"/>
<rect x="1014" y="127" width="1" height="9" fill="#000"/>
<rect x="1012" y="131" width="5" height="1" fill="#000"/>
<rect x="1022" y="126" width="1" height="9" fill="#000"/>
<rect x="1020" y="126" width="5" height="2" fill="#000"/>
<rect x="1030" y="106" width="1" height="26" fill="#000"/>
<rect x="1028" y="125" width="5" height="3" fill="#000"/>
<rect x="1038" y="122" width="1" height="17" fill="#000"/>
<rect x="1036" y="126" width="5" height="10" fill="#000"/>
<rect x="1046" y="131" width="1" height="14" fill="#000"/>
<rect x="1044" y="134" width="5" height="1" fill="#000"/>
<rect x="1054" y="130" width="1" height="13" fill="#000"/>
<rect x="1052" y="134" width="5" height="1" fill="#000"/>
<rect x="1062" y="130" width="1" height="6" fill="#000"/>
<rect x="1060.5" y="131.5" width="4" height="4" fill="#fff" stroke="#000" stroke-width="1"/>
<rect x="1070" y="129" width="1" height="12" fill="#000"/>
<rect x="1068" y="133" width="5" height="8" fill="#000"/>
<rect x="1078" y="135" width="1" height="29" fill="#000"/>
<rect x="1076" y="139" width="5" height="10" fill="#000"/>
<rect x="1086" y="135" width="1" height="48" fill="#000"/>
<rect x="1084" y="146" width="5" height="21" fill="#000"/>
<rect x="1094" y="158" width="1" height="51" fill="#000"/>
<rect x="1092" y="164" width="5" height="39" fill="#000"/>
<rect x="1102" y="192" width="1" height="25" fill="#000"/>
<rect x="1100.5" y="194.5" width="4" height="8" fill="#fff" stroke="#000" stroke-width="1"/>
<rect x="1110" y="188" width="1" height="25" fill="#000"/>
<rect x="1108" y="193" width="5" height="14" fill="#000"/>
<rect x="1118" y="197" width="1" height="16" fill="#000"/>
<rect x="1116" y="197" width="5" height="4" fill="#000"/>
<rect x="1126" y="184" width="1" height="45" fill="#000"/>
<rect x="1124" y="202" width="5" height="23" fill="#000"/>
<rect x="1134" y="160" width="1" height="75" fill="#000"/>
<rect x="1132.5" y="166.5" width="4" height="58" fill="#fff" stroke="#000" stroke-width="1"/>
<rect x="1142" y="163" width="1" height="33" fill="#000"/>
<rect x="1140" y="166" width="5" height="1" fill="#000"/>
<rect x="1150" y="163" width="1" height="23" fill="#000"/>
<rect x="1148" y="165" width="5" height="5" fill="#000"/>
<rect x="1158" y="167" width="1" height="22" fill="#000"/>
<rect x="1156" y="169" width="5" height="10" fill="#000"/>
<rect x="1166" y="170" width="1" height="28" fill="#000"/>
<rect x="1164" y="170" width="5" height="26" fill="#000"/>
<rect x="1174" y="195" width="1" height="43" fill="#000"/>
<rect x="1172" y="195" width="5" height="14" fill="#000"/>
<rect x="1182" y="175" width="1" height="32" fill="#000"/>
<rect x="1180.5" y="201.5" width="4" height="5" fill="#fff" stroke="#000" stroke-width="1"/>
<rect x="1190" y="195" width="1" height="21" fill="#000"/>
<rect x="1188" y="201" width="5" height="15" fill="#000"/>
<rect x="1198" y="209" width="1" height="34" fill="#000"/>
<rect x="1196" y="215" width="5" height="1" fill="#000"/>
<rect x="1206" y="211" width="1" height="30" fill="#000"/>
<rect x="1204" y="216" width="5" height="21" fill="#000"/>
<rect x="1214" y="227" width="1" height="24" fill="#000"/>
<rect x="1212" y="227" width="5" height="17" fill="#000"/>
<rect x="1222" y="222" width="1" height="104" fill="#000"/>
<rect x="1220" y="243" width="5" height="81" fill="#000"/>
<rect x="1230" y="294" width="1" height="30" fill="#000"/>
<rect x="1228.5" y="306.5" width="4" height="17" fill="#fff" stroke="#000" stroke-width="1"/>
<rect x="1238" y="277" width="1" height="47" fill="#000"/>
<rect x="1236" y="306" width="5" height="14" fill="#000"/>
<rect x="1246" y="270" width="1" height="49" fill="#000"/>
<rect x="1244.5" y="270.5" width="4" height="48" fill="#fff" stroke="#000" stroke-width="1"/>
<rect x="1254" y="260" width="1" height="16" fill="#000"/>
<rect x="1252.5" y="268.5" width="4" height="2" fill="#fff" stroke="#000" stroke-width="1"/>
<rect x="1262" y="252" width="1" height="19" fill="#000"/>
<rect x="1260" y="258" width="5" height="13" fill="#000"/>
<rect x="1270" y="270" width="1" height="100" fill="#000"/>
<rect x="1268" y="271" width="5" height="99" fill="#000"/>
<rect x="1278" y="344" width="1" height="61" fill="#000"/>
<rect x="1276" y="368" width="5" height="1" fill="#000"/>
<rect x="1286" y="367" width="1" height="105" fill="#000"/>
<rect x="1284" y="368" width="5" height="97" fill="#000"/>
<rect x="1294" y="438" width="1" height="34" fill="#000"/>
<rect x="1292.5" y="457.5" width="4" height="5" fill="#fff" stroke="#000" stroke-width="1"/>
<rect x="1302" y="432" width="1" height="17" fill="#000"/>
<rect x="1300.5" y="441.5" width="4" height="7" fill="#fff" stroke="#000" stroke-width="1"/>
<rect x="1310" y="427" width="1" height="22" fill="#000"/>
<rect x="1308" y="432" width="5" height="9" fill="#000"/>
<rect x="1318" y="425" width="1" height="74" fill="#000"/>
<rect x="1316.5" y="430.5" width="4" height="13" fill="#fff" stroke="#000" stroke-width="1"/>
<rect x="1326" y="413" width="1" height="55" fill="#000"/>
<rect x="1324.5" y="421.5" width="4" height="10" fill="#fff" stroke="#000" stroke-width="1"/>
<rect x="1334" y="387" width="1" height="40" fill="#000"/>
<rect x="1332.5" y="390.5" width="4" height="32" fill="#fff" stroke="#000" stroke-width="1"/>
<rect x="1342" y="381" width="1" height="19" fill="#000"/>
<rect x="1340.5" y="382.5" width="4" height="8" fill="#fff" stroke="#000" stroke-width="1"/>
<rect x="1350" y="383" width="1" height="16" fill="#000"/>
<rect x="1348" y="386" width="5" height="12" fill="#000"/>
<rect x="1358" y="396" width="1" height="27" fill="#000"/>
<rect x="1356" y="398" width="5" height="19" fill="#000"/>
<rect x="1366" y="392" width="1" height="146" fill="#000"/>
<rect x="1364" y="416" width="5" height="79" fill="#000"/>
<rect x="1374" y="470" width="1" height="95" fill="#000"/>
<rect x="1372" y="495" width="5" height="52" fill="#000"/>
<rect x="1382" y="503" width="1" height="50" fill="#000"/>
<rect x="1380.5" y="503.5" width="4" height="43" fill="#fff" stroke="#000" stroke-width="1"/>
<rect x="1390" y="454" width="1" height="63" fill="#000"/>
<rect x="1388.5" y="461.5" width="4" height="42" fill="#fff" stroke="#000" stroke-width="1"/>
<rect x="1398" y="455" width="1" height="14" fill="#000"/>
<rect x="1396" y="463" width="5" height="2" fill="#000"/>
<rect x="1243" y="448" width="243" height="6" fill="#00ff00"/>
<rect x="743.5" y="236.5" width="61" height="18" fill="#fff" stroke="#ff0000" stroke-width="1"/>
<text x="745.5" y="251.8" class="lb">29231.5</text>
<rect x="805" y="245" width="10" height="1" fill="#ff0000"/>
<rect x="1151.5" y="441.5" width="61" height="18" fill="#fff" stroke="#ff0000" stroke-width="1"/>
<text x="1153.5" y="456.8" class="lb">27780.4</text>
<rect x="1213.5" y="448.5" width="2" height="2" fill="#fff" stroke="#ff0000"/><rect x="1216" y="450" width="7" height="1" fill="#ff0000"/>
<rect x="1303.5" y="555.5" width="61" height="18" fill="#fff" stroke="#ff0000" stroke-width="1"/>
<text x="1305.5" y="570.8" class="lb">26973.1</text>
<rect x="1365.5" y="562.5" width="2" height="2" fill="#fff" stroke="#ff0000"/><rect x="1368" y="564" width="7" height="1" fill="#ff0000"/>
<line x1="1167" y1="175.5" x2="1287.3" y2="455.2" stroke="#ff0000" stroke-width="3.6" stroke-linecap="round"/>
<polygon points="1290.5,462.5 1282.0,455.3 1291.1,451.3" fill="#ff0000"/>
<line x1="1291" y1="462" x2="1345.5" y2="383.1" stroke="#ff0000" stroke-width="3.6" stroke-linecap="round"/>
<polygon points="1350.0,376.5 1348.4,387.6 1340.2,381.9" fill="#ff0000"/>
<line x1="1350" y1="377" x2="1373.4" y2="554.1" stroke="#ff0000" stroke-width="3.6" stroke-linecap="round"/>
<polygon points="1374.5,562.0 1368.2,552.7 1378.1,551.4" fill="#ff0000"/>
<line x1="1376" y1="560" x2="1395.9" y2="459.8" stroke="#ff0000" stroke-width="3.6" stroke-linecap="round"/>
<polygon points="1397.5,452.0 1400.5,462.8 1390.6,460.8" fill="#ff0000"/>
<line x1="1398" y1="453" x2="1432.4" y2="494.8" stroke="#ff0000" stroke-width="3.6" stroke-linecap="round"/>
<polygon points="1437.5,501.0 1427.3,496.5 1435.0,490.1" fill="#ff0000"/>
</g>
<g clip-path="url(#cmacd)">
<rect x="6" y="661" width="1" height="6" fill="#c0c0c0"/>
<rect x="14" y="663" width="1" height="4" fill="#c0c0c0"/>
<rect x="22" y="665" width="1" height="2" fill="#c0c0c0"/>
<rect x="30" y="665" width="1" height="2" fill="#c0c0c0"/>
<rect x="38" y="663" width="1" height="4" fill="#c0c0c0"/>
<rect x="46" y="661" width="1" height="6" fill="#c0c0c0"/>
<rect x="54" y="660" width="1" height="7" fill="#c0c0c0"/>
<rect x="62" y="660" width="1" height="7" fill="#c0c0c0"/>
<rect x="70" y="660" width="1" height="7" fill="#c0c0c0"/>
<rect x="78" y="661" width="1" height="6" fill="#c0c0c0"/>
<rect x="86" y="661" width="1" height="6" fill="#c0c0c0"/>
<rect x="94" y="663" width="1" height="4" fill="#c0c0c0"/>
<rect x="102" y="663" width="1" height="4" fill="#c0c0c0"/>
<rect x="110" y="664" width="1" height="3" fill="#c0c0c0"/>
<rect x="118" y="662" width="1" height="5" fill="#c0c0c0"/>
<rect x="126" y="659" width="1" height="8" fill="#c0c0c0"/>
<rect x="134" y="656" width="1" height="11" fill="#c0c0c0"/>
<rect x="142" y="654" width="1" height="13" fill="#c0c0c0"/>
<rect x="150" y="652" width="1" height="15" fill="#c0c0c0"/>
<rect x="158" y="650" width="1" height="17" fill="#c0c0c0"/>
<rect x="166" y="646" width="1" height="21" fill="#c0c0c0"/>
<rect x="174" y="641" width="1" height="26" fill="#c0c0c0"/>
<rect x="182" y="638" width="1" height="29" fill="#c0c0c0"/>
<rect x="190" y="635" width="1" height="32" fill="#c0c0c0"/>
<rect x="198" y="633" width="1" height="34" fill="#c0c0c0"/>
<rect x="206" y="633" width="1" height="34" fill="#c0c0c0"/>
<rect x="214" y="633" width="1" height="34" fill="#c0c0c0"/>
<rect x="222" y="633" width="1" height="34" fill="#c0c0c0"/>
<rect x="230" y="632" width="1" height="35" fill="#c0c0c0"/>
<rect x="238" y="634" width="1" height="33" fill="#c0c0c0"/>
<rect x="246" y="634" width="1" height="33" fill="#c0c0c0"/>
<rect x="254" y="634" width="1" height="33" fill="#c0c0c0"/>
<rect x="262" y="629" width="1" height="38" fill="#c0c0c0"/>
<rect x="270" y="623" width="1" height="44" fill="#c0c0c0"/>
<rect x="278" y="618" width="1" height="49" fill="#c0c0c0"/>
<rect x="286" y="612" width="1" height="55" fill="#c0c0c0"/>
<rect x="294" y="608" width="1" height="59" fill="#c0c0c0"/>
<rect x="302" y="606" width="1" height="61" fill="#c0c0c0"/>
<rect x="310" y="604" width="1" height="63" fill="#c0c0c0"/>
<rect x="318" y="597" width="1" height="70" fill="#c0c0c0"/>
<rect x="326" y="592" width="1" height="75" fill="#c0c0c0"/>
<rect x="334" y="590" width="1" height="77" fill="#c0c0c0"/>
<rect x="342" y="589" width="1" height="78" fill="#c0c0c0"/>
<rect x="350" y="592" width="1" height="75" fill="#c0c0c0"/>
<rect x="358" y="596" width="1" height="71" fill="#c0c0c0"/>
<rect x="366" y="598" width="1" height="69" fill="#c0c0c0"/>
<rect x="374" y="605" width="1" height="62" fill="#c0c0c0"/>
<rect x="382" y="609" width="1" height="58" fill="#c0c0c0"/>
<rect x="390" y="614" width="1" height="53" fill="#c0c0c0"/>
<rect x="398" y="618" width="1" height="49" fill="#c0c0c0"/>
<rect x="406" y="620" width="1" height="47" fill="#c0c0c0"/>
<rect x="414" y="621" width="1" height="46" fill="#c0c0c0"/>
<rect x="422" y="624" width="1" height="43" fill="#c0c0c0"/>
<rect x="430" y="627" width="1" height="40" fill="#c0c0c0"/>
<rect x="438" y="631" width="1" height="36" fill="#c0c0c0"/>
<rect x="446" y="634" width="1" height="33" fill="#c0c0c0"/>
<rect x="454" y="636" width="1" height="31" fill="#c0c0c0"/>
<rect x="462" y="637" width="1" height="30" fill="#c0c0c0"/>
<rect x="470" y="637" width="1" height="30" fill="#c0c0c0"/>
<rect x="478" y="638" width="1" height="29" fill="#c0c0c0"/>
<rect x="486" y="639" width="1" height="28" fill="#c0c0c0"/>
<rect x="494" y="641" width="1" height="26" fill="#c0c0c0"/>
<rect x="502" y="639" width="1" height="28" fill="#c0c0c0"/>
<rect x="510" y="637" width="1" height="30" fill="#c0c0c0"/>
<rect x="518" y="637" width="1" height="30" fill="#c0c0c0"/>
<rect x="526" y="637" width="1" height="30" fill="#c0c0c0"/>
<rect x="534" y="640" width="1" height="27" fill="#c0c0c0"/>
<rect x="542" y="640" width="1" height="27" fill="#c0c0c0"/>
<rect x="550" y="641" width="1" height="26" fill="#c0c0c0"/>
<rect x="558" y="638" width="1" height="29" fill="#c0c0c0"/>
<rect x="566" y="638" width="1" height="29" fill="#c0c0c0"/>
<rect x="574" y="638" width="1" height="29" fill="#c0c0c0"/>
<rect x="582" y="637" width="1" height="30" fill="#c0c0c0"/>
<rect x="590" y="637" width="1" height="30" fill="#c0c0c0"/>
<rect x="598" y="636" width="1" height="31" fill="#c0c0c0"/>
<rect x="606" y="638" width="1" height="29" fill="#c0c0c0"/>
<rect x="614" y="642" width="1" height="25" fill="#c0c0c0"/>
<rect x="622" y="646" width="1" height="21" fill="#c0c0c0"/>
<rect x="630" y="648" width="1" height="19" fill="#c0c0c0"/>
<rect x="638" y="649" width="1" height="18" fill="#c0c0c0"/>
<rect x="646" y="650" width="1" height="17" fill="#c0c0c0"/>
<rect x="654" y="650" width="1" height="17" fill="#c0c0c0"/>
<rect x="662" y="652" width="1" height="15" fill="#c0c0c0"/>
<rect x="670" y="652" width="1" height="15" fill="#c0c0c0"/>
<rect x="678" y="651" width="1" height="16" fill="#c0c0c0"/>
<rect x="686" y="650" width="1" height="17" fill="#c0c0c0"/>
<rect x="694" y="655" width="1" height="12" fill="#c0c0c0"/>
<rect x="702" y="657" width="1" height="10" fill="#c0c0c0"/>
<rect x="710" y="659" width="1" height="8" fill="#c0c0c0"/>
<rect x="718" y="659" width="1" height="8" fill="#c0c0c0"/>
<rect x="726" y="660" width="1" height="7" fill="#c0c0c0"/>
<rect x="734" y="661" width="1" height="6" fill="#c0c0c0"/>
<rect x="742" y="661" width="1" height="6" fill="#c0c0c0"/>
<rect x="750" y="662" width="1" height="5" fill="#c0c0c0"/>
<rect x="758" y="664" width="1" height="3" fill="#c0c0c0"/>
<rect x="766" y="665" width="1" height="2" fill="#c0c0c0"/>
<rect x="774" y="666" width="1" height="1" fill="#c0c0c0"/>
<rect x="790" y="667" width="1" height="5" fill="#c0c0c0"/>
<rect x="798" y="667" width="1" height="10" fill="#c0c0c0"/>
<rect x="806" y="667" width="1" height="16" fill="#c0c0c0"/>
<rect x="814" y="667" width="1" height="24" fill="#c0c0c0"/>
<rect x="822" y="667" width="1" height="25" fill="#c0c0c0"/>
<rect x="830" y="667" width="1" height="25" fill="#c0c0c0"/>
<rect x="838" y="667" width="1" height="24" fill="#c0c0c0"/>
<rect x="846" y="667" width="1" height="19" fill="#c0c0c0"/>
<rect x="854" y="667" width="1" height="18" fill="#c0c0c0"/>
<rect x="862" y="667" width="1" height="17" fill="#c0c0c0"/>
<rect x="870" y="667" width="1" height="16" fill="#c0c0c0"/>
<rect x="878" y="667" width="1" height="17" fill="#c0c0c0"/>
<rect x="886" y="667" width="1" height="21" fill="#c0c0c0"/>
<rect x="894" y="667" width="1" height="19" fill="#c0c0c0"/>
<rect x="902" y="667" width="1" height="17" fill="#c0c0c0"/>
<rect x="910" y="667" width="1" height="16" fill="#c0c0c0"/>
<rect x="918" y="667" width="1" height="14" fill="#c0c0c0"/>
<rect x="926" y="667" width="1" height="11" fill="#c0c0c0"/>
<rect x="934" y="667" width="1" height="9" fill="#c0c0c0"/>
<rect x="942" y="667" width="1" height="6" fill="#c0c0c0"/>
<rect x="950" y="667" width="1" height="3" fill="#c0c0c0"/>
<rect x="958" y="667" width="1" height="1" fill="#c0c0c0"/>
<rect x="966" y="665" width="1" height="2" fill="#c0c0c0"/>
<rect x="974" y="663" width="1" height="4" fill="#c0c0c0"/>
<rect x="982" y="662" width="1" height="5" fill="#c0c0c0"/>
<rect x="990" y="663" width="1" height="4" fill="#c0c0c0"/>
<rect x="998" y="663" width="1" height="4" fill="#c0c0c0"/>
<rect x="1006" y="662" width="1" height="5" fill="#c0c0c0"/>
<rect x="1014" y="663" width="1" height="4" fill="#c0c0c0"/>
<rect x="1022" y="661" width="1" height="6" fill="#c0c0c0"/>
<rect x="1030" y="661" width="1" height="6" fill="#c0c0c0"/>
<rect x="1038" y="662" width="1" height="5" fill="#c0c0c0"/>
<rect x="1046" y="661" width="1" height="6" fill="#c0c0c0"/>
<rect x="1054" y="662" width="1" height="5" fill="#c0c0c0"/>
<rect x="1062" y="662" width="1" height="5" fill="#c0c0c0"/>
<rect x="1070" y="663" width="1" height="4" fill="#c0c0c0"/>
<rect x="1078" y="664" width="1" height="3" fill="#c0c0c0"/>
<rect x="1086" y="666" width="1" height="1" fill="#c0c0c0"/>
<rect x="1094" y="667" width="1" height="4" fill="#c0c0c0"/>
<rect x="1102" y="667" width="1" height="8" fill="#c0c0c0"/>
<rect x="1110" y="667" width="1" height="10" fill="#c0c0c0"/>
<rect x="1118" y="667" width="1" height="13" fill="#c0c0c0"/>
<rect x="1126" y="667" width="1" height="17" fill="#c0c0c0"/>
<rect x="1134" y="667" width="1" height="15" fill="#c0c0c0"/>
<rect x="1142" y="667" width="1" height="13" fill="#c0c0c0"/>
<rect x="1150" y="667" width="1" height="11" fill="#c0c0c0"/>
<rect x="1158" y="667" width="1" height="11" fill="#c0c0c0"/>
<rect x="1166" y="667" width="1" height="12" fill="#c0c0c0"/>
<rect x="1174" y="667" width="1" height="13" fill="#c0c0c0"/>
<rect x="1182" y="667" width="1" height="13" fill="#c0c0c0"/>
<rect x="1190" y="667" width="1" height="16" fill="#c0c0c0"/>
<rect x="1198" y="667" width="1" height="17" fill="#c0c0c0"/>
<rect x="1206" y="667" width="1" height="19" fill="#c0c0c0"/>
<rect x="1214" y="667" width="1" height="21" fill="#c0c0c0"/>
<rect x="1222" y="667" width="1" height="30" fill="#c0c0c0"/>
<rect x="1230" y="667" width="1" height="35" fill="#c0c0c0"/>
<rect x="1238" y="667" width="1" height="39" fill="#c0c0c0"/>
<rect x="1246" y="667" width="1" height="38" fill="#c0c0c0"/>
<rect x="1254" y="667" width="1" height="37" fill="#c0c0c0"/>
<rect x="1262" y="667" width="1" height="36" fill="#c0c0c0"/>
<rect x="1270" y="667" width="1" height="43" fill="#c0c0c0"/>
<rect x="1278" y="667" width="1" height="47" fill="#c0c0c0"/>
<rect x="1286" y="667" width="1" height="60" fill="#c0c0c0"/>
<rect x="1294" y="667" width="1" height="66" fill="#c0c0c0"/>
<rect x="1302" y="667" width="1" height="71" fill="#c0c0c0"/>
<rect x="1310" y="667" width="1" height="73" fill="#c0c0c0"/>
<rect x="1318" y="667" width="1" height="73" fill="#c0c0c0"/>
<rect x="1326" y="667" width="1" height="72" fill="#c0c0c0"/>
<rect x="1334" y="667" width="1" height="68" fill="#c0c0c0"/>
<rect x="1342" y="667" width="1" height="63" fill="#c0c0c0"/>
<rect x="1350" y="667" width="1" height="59" fill="#c0c0c0"/>
<rect x="1358" y="667" width="1" height="57" fill="#c0c0c0"/>
<rect x="1366" y="667" width="1" height="63" fill="#c0c0c0"/>
<rect x="1374" y="667" width="1" height="70" fill="#c0c0c0"/>
<rect x="1382" y="667" width="1" height="71" fill="#c0c0c0"/>
<rect x="1390" y="667" width="1" height="68" fill="#c0c0c0"/>
<rect x="1398" y="667" width="1" height="64" fill="#c0c0c0"/>
<polyline points="0.0,654.2 12.9,655.5 33.6,659.3 51.6,661.1 118.8,661.1 144.6,660.1 165.2,654.7 191.1,646.4 216.9,637.9 242.7,633.5 263.4,630.9 284.0,625.8 309.8,618.0 335.7,603.3 351.1,597.4 366.6,595.6 384.7,595.6 402.8,601.2 418.3,610.3 430.0,614.1 438.9,618.0 455.8,624.5 481.6,630.9 502.3,636.9 533.3,637.4 559.1,638.4 597.8,637.4 621.1,637.9 641.7,641.3 662.4,645.6 688.2,649.0 714.0,652.9 739.8,656.0 765.7,660.1 790.2,662.7 796.6,667.1 809.5,669.7 822.5,674.8 832.8,680.0 848.3,683.9 860.0,687.7 885.8,688.5 911.6,686.4 937.5,682.6 955.5,678.7 968.4,674.8 989.1,668.4 1014.9,663.2 1030.4,661.1 1066.6,660.6 1087.2,661.1 1107.9,664.5 1118.2,667.1 1133.7,673.0 1149.2,677.4 1182.7,680.0 1208.6,681.3 1226.6,685.9 1242.1,691.6 1262.8,696.8 1278.3,704.5 1295.2,713.0 1308.0,719.4 1319.7,724.3 1331.4,729.3 1338.4,732.8 1350.0,734.4 1373.4,734.4 1391.0,733.4 1398.0,732.3" fill="none" stroke="#ff0000" stroke-width="1" stroke-dasharray="3,3" stroke-dashoffset="2" shape-rendering="crispEdges"/>
<polyline points="1311.5,737 1314.5,728 1317.5,737" fill="none" stroke="#ff0000" stroke-width="2.5" stroke-linejoin="round"/>
<rect x="1313" y="726" width="53" height="3" fill="#ff0000"/>
<rect x="1366" y="727" width="46" height="3" fill="#ff0000"/>
<polygon points="1420,728.5 1409,723.5 1411,728.5 1409,733.5" fill="#ff0000"/>
</g>
<g clip-path="url(#crsi)">
<line x1="-1" y1="787.5" x2="1657" y2="787.5" stroke="#c0c0c0" stroke-width="1" stroke-dasharray="3,3"/>
<line x1="-1" y1="838.5" x2="1657" y2="838.5" stroke="#c0c0c0" stroke-width="1" stroke-dasharray="3,3"/>
<line x1="-1" y1="899.5" x2="1657" y2="899.5" stroke="#c0c0c0" stroke-width="1" stroke-dasharray="3,3"/>
<polyline points="-2.0,836.7 6.0,838.0 14.0,849.3 22.0,848.3 30.0,835.9 38.0,822.2 46.0,819.6 54.0,818.6 62.0,818.6 70.0,831.3 78.0,837.2 86.0,836.4 94.0,837.2 102.0,838.5 110.0,842.9 118.0,814.7 126.0,803.6 134.0,811.4 142.0,808.3 150.0,807.0 158.0,803.1 166.0,790.7 174.0,787.4 182.0,787.4 190.0,786.3 198.0,790.2 206.0,795.9 214.0,794.1 222.0,794.1 230.0,788.7 238.0,799.3 246.0,797.2 254.0,801.1 262.0,783.0 270.0,777.3 278.0,777.3 286.0,774.5 294.0,773.2 302.0,774.5 310.0,773.4 318.0,767.5 326.0,770.8 334.0,775.2 342.0,774.5 350.0,793.8 358.0,797.2 366.0,796.4 374.0,817.8 382.0,813.5 390.0,814.7 398.0,820.4 406.0,811.4 414.0,805.4 422.0,822.2 430.0,820.2 438.0,826.4 446.0,825.6 454.0,824.3 462.0,818.6 470.0,811.4 478.0,819.1 486.0,820.9 494.0,823.0 502.0,810.9 510.0,805.4 518.0,814.0 526.0,817.8 534.0,830.0 542.0,819.6 550.0,823.0 558.0,810.6 566.0,818.4 574.0,817.3 582.0,814.5 590.0,817.3 598.0,814.5 606.0,824.3 614.0,834.1 622.0,836.4 630.0,834.1 638.0,828.7 646.0,825.6 654.0,826.9 662.0,832.0 670.0,823.8 678.0,820.4 686.0,819.6 694.0,847.0 702.0,839.3 710.0,839.3 718.0,831.3 726.0,833.3 734.0,837.2 742.0,832.6 750.0,839.3 758.0,842.4 766.0,843.7 774.0,848.3 782.0,841.9 790.0,862.5 798.0,869.5 806.0,871.3 814.0,879.0 822.0,865.6 830.0,851.4 838.0,849.6 846.0,836.7 854.0,847.0 862.0,841.9 870.0,848.0 878.0,852.2 886.0,857.1 894.0,848.0 902.0,843.7 910.0,841.6 918.0,842.4 926.0,836.4 934.0,834.6 942.0,836.4 950.0,826.4 958.0,827.4 966.0,825.6 974.0,828.9 982.0,828.2 990.0,836.4 998.0,835.1 1006.0,830.2 1014.0,828.9 1022.0,826.4 1030.0,827.7 1038.0,833.3 1046.0,833.3 1054.0,832.0 1062.0,830.2 1070.0,838.5 1078.0,842.9 1086.0,852.7 1094.0,871.3 1102.0,865.6 1110.0,869.5 1118.0,865.6 1126.0,874.1 1134.0,840.6 1142.0,839.3 1150.0,841.1 1158.0,846.2 1166.0,852.2 1174.0,857.9 1182.0,854.8 1190.0,859.2 1198.0,859.2 1206.0,867.7 1214.0,870.8 1222.0,888.1 1230.0,879.3 1238.0,881.1 1246.0,857.3 1254.0,857.4 1262.0,857.4 1270.0,878.4 1278.0,879.4 1286.0,891.4 1294.0,885.9 1302.0,882.7 1310.0,881.4 1318.0,876.9 1326.0,873.4 1334.0,861.4 1342.0,858.2 1350.0,861.4 1358.0,864.9 1366.0,878.9 1374.0,885.4 1382.0,871.9 1390.0,858.2 1398.0,859.4" fill="none" stroke="#1e90ff" stroke-width="1" shape-rendering="crispEdges"/>
<rect x="1259" y="864.5" width="138" height="4" fill="#ff0000"/>
<polygon points="1406,866.5 1394,861.5 1396,866.5 1394,871.5" fill="#ff0000"/>
</g>
<text transform="translate(2 591.5) scale(0.93 1)" class="t">MACD(12,26,9) -416.73 -416.28</text>
<text transform="translate(2 763.5) scale(0.93 1)" class="t">RSI(14) 38.2099</text>
<polygon points="1,35 8.5,35 4.75,31" fill="#000"/>
<text transform="translate(12.5 35.5) scale(0.955 1)" class="t" style="stroke-width:0.1px">JPN225-,H4&#160; 27692.5 27747.5 27657.5 27682.5</text>
<rect x="1658" y="46" width="3" height="1" fill="#000"/>
<text transform="translate(1662.5 50) scale(0.95 1)" class="t">30647.0</text>
<rect x="1658" y="79" width="3" height="1" fill="#000"/>
<text transform="translate(1662.5 83) scale(0.95 1)" class="t">30409.0</text>
<rect x="1658" y="112" width="3" height="1" fill="#000"/>
<text transform="translate(1662.5 116) scale(0.95 1)" class="t">30178.0</text>
<rect x="1658" y="145" width="3" height="1" fill="#000"/>
<text transform="translate(1662.5 149) scale(0.95 1)" class="t">29940.0</text>
<rect x="1658" y="178" width="3" height="1" fill="#000"/>
<text transform="translate(1662.5 182) scale(0.95 1)" class="t">29709.0</text>
<rect x="1658" y="211" width="3" height="1" fill="#000"/>
<text transform="translate(1662.5 215) scale(0.95 1)" class="t">29471.0</text>
<rect x="1658" y="244" width="3" height="1" fill="#000"/>
<text transform="translate(1662.5 248) scale(0.95 1)" class="t">29240.0</text>
<rect x="1658" y="277" width="3" height="1" fill="#000"/>
<text transform="translate(1662.5 281) scale(0.95 1)" class="t">29009.0</text>
<rect x="1658" y="310" width="3" height="1" fill="#000"/>
<text transform="translate(1662.5 314) scale(0.95 1)" class="t">28771.0</text>
<rect x="1658" y="343" width="3" height="1" fill="#000"/>
<text transform="translate(1662.5 347) scale(0.95 1)" class="t">28540.0</text>
<rect x="1658" y="376" width="3" height="1" fill="#000"/>
<text transform="translate(1662.5 380) scale(0.95 1)" class="t">28302.0</text>
<rect x="1658" y="409" width="3" height="1" fill="#000"/>
<text transform="translate(1662.5 413) scale(0.95 1)" class="t">28071.0</text>
<rect x="1658" y="442" width="3" height="1" fill="#000"/>
<text transform="translate(1662.5 446) scale(0.95 1)" class="t">27833.0</text>
<rect x="1658" y="475" width="3" height="1" fill="#000"/>
<text transform="translate(1662.5 479) scale(0.95 1)" class="t">27602.0</text>
<rect x="1658" y="508" width="3" height="1" fill="#000"/>
<text transform="translate(1662.5 512) scale(0.95 1)" class="t">27364.0</text>
<rect x="1658" y="541" width="3" height="1" fill="#000"/>
<text transform="translate(1662.5 545) scale(0.95 1)" class="t">27133.0</text>
<rect x="1658" y="574" width="3" height="1" fill="#000"/>
<text transform="translate(1662.5 578) scale(0.95 1)" class="t">26902.0</text>
<rect x="1659" y="390.0" width="41" height="11" fill="#ff0000"/>
<text transform="translate(1662.5 399.5) scale(0.95 1)" class="t" style="fill:#fff;stroke:#fff;stroke-width:0.1px">28162.8</text>
<rect x="1659" y="418.0" width="41" height="11" fill="#ff0000"/>
<text transform="translate(1662.5 427.5) scale(0.95 1)" class="t" style="fill:#fff;stroke:#fff;stroke-width:0.1px">27964.5</text>
<rect x="1659" y="444.0" width="41" height="11" fill="#32cd32"/>
<text transform="translate(1662.5 453.5) scale(0.95 1)" class="t" style="fill:#fff;stroke:#fff;stroke-width:0.1px">27780.4</text>
<rect x="1659" y="458.8" width="41" height="11" fill="#000000"/>
<text transform="translate(1662.5 468.3) scale(0.95 1)" class="t" style="fill:#fff;stroke:#fff;stroke-width:0.1px">27682.5</text>
<rect x="1659" y="481.9" width="41" height="11" fill="#0000ff"/>
<text transform="translate(1662.5 491.4) scale(0.95 1)" class="t" style="fill:#fff;stroke:#fff;stroke-width:0.1px">27511.3</text>
<rect x="1659" y="508.0" width="41" height="11" fill="#0000ff"/>
<text transform="translate(1662.5 517.5) scale(0.95 1)" class="t" style="fill:#fff;stroke:#fff;stroke-width:0.1px">27327.1</text>
<rect x="1658" y="581" width="2" height="1" fill="#000"/>
<text transform="translate(1661 590) scale(0.95 1)" class="t">558.83</text>
<rect x="1658" y="667" width="2" height="1" fill="#000"/>
<text transform="translate(1661 671) scale(0.95 1)" class="t">0.00</text>
<rect x="1658" y="748" width="2" height="1" fill="#000"/>
<text transform="translate(1661 745.5) scale(0.95 1)" class="t">-523.82</text>
<rect x="1658" y="753" width="2" height="1" fill="#000"/>
<text transform="translate(1661 761.5) scale(0.95 1)" class="t">100</text>
<text transform="translate(1660.5 791) scale(0.95 1)" class="t">80</text>
<text transform="translate(1660.5 842) scale(0.95 1)" class="t">50</text>
<text transform="translate(1660.5 903) scale(0.95 1)" class="t">15</text>
<rect x="1658" y="925" width="2" height="1" fill="#000"/>
<text transform="translate(1661 921.5) scale(0.95 1)" class="t">0</text>
<text transform="translate(-1.5 938) scale(0.96 1)" class="t">26 Aug 2021</text>
<rect x="62" y="926" width="1" height="3" fill="#000"/>
<text transform="translate(61 938) scale(0.96 1)" class="t">29 Aug 23:30</text>
<rect x="126" y="926" width="1" height="3" fill="#000"/>
<text transform="translate(125 938) scale(0.96 1)" class="t">31 Aug 04:00</text>
<rect x="190" y="926" width="1" height="3" fill="#000"/>
<text transform="translate(189 938) scale(0.96 1)" class="t">1 Sep 14:55</text>
<rect x="254" y="926" width="1" height="3" fill="#000"/>
<text transform="translate(253 938) scale(0.96 1)" class="t">2 Sep 23:30</text>
<rect x="318" y="926" width="1" height="3" fill="#000"/>
<text transform="translate(317 938) scale(0.96 1)" class="t">6 Sep 04:00</text>
<rect x="382" y="926" width="1" height="3" fill="#000"/>
<text transform="translate(381 938) scale(0.96 1)" class="t">7 Sep 13:00</text>
<rect x="446" y="926" width="1" height="3" fill="#000"/>
<text transform="translate(445 938) scale(0.96 1)" class="t">8 Sep 23:30</text>
<rect x="510" y="926" width="1" height="3" fill="#000"/>
<text transform="translate(509 938) scale(0.96 1)" class="t">10 Sep 04:00</text>
<rect x="574" y="926" width="1" height="3" fill="#000"/>
<text transform="translate(573 938) scale(0.96 1)" class="t">13 Sep 14:55</text>
<rect x="638" y="926" width="1" height="3" fill="#000"/>
<text transform="translate(637 938) scale(0.96 1)" class="t">14 Sep 23:30</text>
<rect x="702" y="926" width="1" height="3" fill="#000"/>
<text transform="translate(701 938) scale(0.96 1)" class="t">16 Sep 04:00</text>
<rect x="766" y="926" width="1" height="3" fill="#000"/>
<text transform="translate(765 938) scale(0.96 1)" class="t">17 Sep 14:55</text>
<rect x="830" y="926" width="1" height="3" fill="#000"/>
<text transform="translate(829 938) scale(0.96 1)" class="t">20 Sep 23:30</text>
<rect x="894" y="926" width="1" height="3" fill="#000"/>
<text transform="translate(893 938) scale(0.96 1)" class="t">22 Sep 04:00</text>
<rect x="958" y="926" width="1" height="3" fill="#000"/>
<text transform="translate(957 938) scale(0.96 1)" class="t">23 Sep 14:55</text>
<rect x="1022" y="926" width="1" height="3" fill="#000"/>
<text transform="translate(1021 938) scale(0.96 1)" class="t">26 Sep 23:30</text>
<rect x="1086" y="926" width="1" height="3" fill="#000"/>
<text transform="translate(1085 938) scale(0.96 1)" class="t">28 Sep 04:00</text>
<rect x="1150" y="926" width="1" height="3" fill="#000"/>
<text transform="translate(1149 938) scale(0.96 1)" class="t">29 Sep 14:55</text>
<rect x="1214" y="926" width="1" height="3" fill="#000"/>
<text transform="translate(1213 938) scale(0.96 1)" class="t">30 Sep 23:30</text>
<rect x="1278" y="926" width="1" height="3" fill="#000"/>
<text transform="translate(1277 938) scale(0.96 1)" class="t">4 Oct 04:00</text>
<rect x="1342" y="926" width="1" height="3" fill="#000"/>
<text transform="translate(1341 938) scale(0.96 1)" class="t">5 Oct 14:55</text>
</g>
<g>

<rect x="53" y="42" width="116" height="27" fill="#fff"/>
<rect x="1" y="44" width="52" height="25" fill="url(#gsellt)"/>
<rect x="1" y="68" width="109" height="33" fill="url(#gsellb)"/>
<rect x="168" y="44" width="52" height="25" fill="url(#gsellt)"/>
<rect x="112" y="68" width="108" height="33" fill="url(#gsellb)"/>
<polygon points="1.5,44.5 52.5,44.5 52.5,68.5 109.5,68.5 109.5,100.5 1.5,100.5" fill="none" stroke="#b40000" stroke-width="1"/>
<polygon points="168.5,44.5 219.5,44.5 219.5,100.5 112.5,100.5 112.5,68.5 168.5,68.5" fill="none" stroke="#b40000" stroke-width="1"/>
<rect x="5" y="67" width="44" height="1" fill="#780000"/>
<rect x="5" y="68" width="44" height="1" fill="#ff7474"/>
<rect x="172" y="67" width="44" height="1" fill="#780000"/>
<rect x="172" y="68" width="44" height="1" fill="#ff7474"/>
<text x="13" y="59.5" class="w" style="font-size:11px">SELL</text>
<text x="181.5" y="59.5" class="w" style="font-size:11px">BUY</text>
<text transform="translate(16.8 95.5) scale(1.05 1)" class="w" style="font-size:12px;font-weight:bold">27681</text>
<text transform="translate(127.4 95.5) scale(1.02 1)" class="w" style="font-size:12px;font-weight:bold">27704</text>
<circle cx="58.5" cy="94" r="2.1" fill="#fff"/>
<circle cx="169.5" cy="94" r="2.1" fill="#fff"/>
<text x="61" y="96" class="big">0</text>
<text x="172.5" y="96" class="big">0</text>
<rect x="55.5" y="44.5" width="110" height="21" fill="#fff" stroke="#a0a4a8"/>
<rect x="56.5" y="45.5" width="19" height="19" fill="url(#gbtn)" stroke="#c8c8c8"/>
<rect x="145.5" y="45.5" width="19" height="19" fill="url(#gbtn)" stroke="#c8c8c8"/>
<rect x="76" y="45" width="1" height="20" fill="#a0a4a8"/>
<rect x="144" y="45" width="1" height="20" fill="#a0a4a8"/>
<polygon points="62.5,53 68.5,53 65.5,56.5" fill="#5060c0"/>
<polygon points="151.5,56.5 157.5,56.5 154.5,53" fill="#5060c0"/>
<text x="141" y="59" class="t" style="font-size:12px;stroke-width:0.1px" text-anchor="end">1.00</text>
<polygon points="54.5,56.5 56,58 54.5,59.5 53,58" fill="#fff" stroke="#000" stroke-width="0.9"/>

</g>
</svg>
</body></html>
